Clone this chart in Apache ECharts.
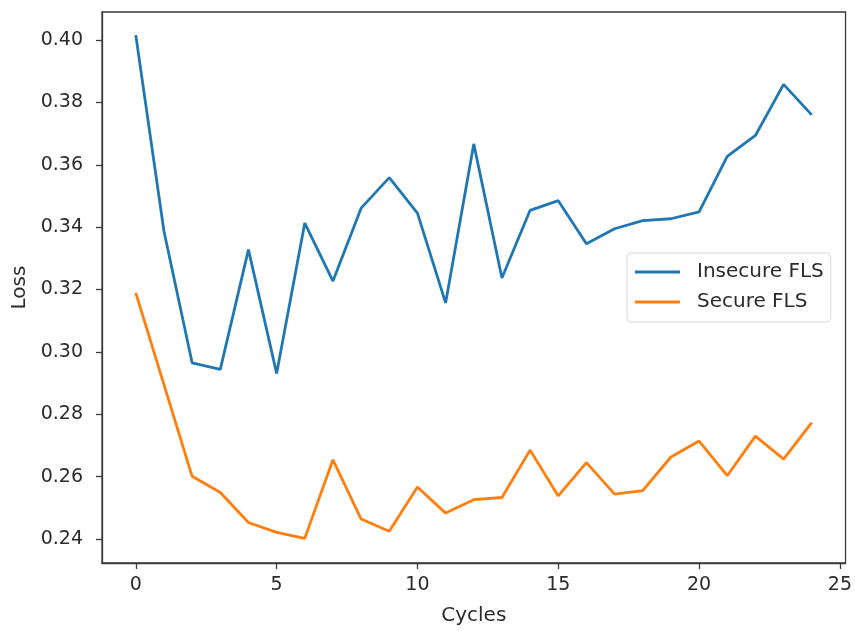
<!DOCTYPE html>
<html>
<head>
<meta charset="utf-8">
<script src="https://cdn.jsdelivr.net/npm/echarts@6/dist/echarts.min.js"></script>
<style>
html,body{margin:0;padding:0;background:#fff;}
#chart{width:855px;height:631px;}
</style>
</head>
<body>
<div id="chart"></div>
<script>
const cycles = [0,1,2,3,4,5,6,7,8,9,10,11,12,13,14,15,16,17,18,19,20,21,22,23,24];
const insecureFLS = [0.4016,0.3387,0.2965,0.2944,0.3328,0.2931,0.3413,0.3227,0.3461,0.3559,0.3445,0.3157,0.3667,0.3237,0.3454,0.3485,0.3347,0.3395,0.3421,0.3427,0.3449,0.3627,0.3694,0.3858,0.3760];
const secureFLS = [0.3189,0.2895,0.2601,0.2549,0.2453,0.2421,0.2402,0.2654,0.2464,0.2425,0.2567,0.2483,0.2526,0.2533,0.2685,0.2538,0.2645,0.2544,0.2555,0.2663,0.2714,0.2603,0.2730,0.2656,0.2773];
const xTicks = [0,5,10,15,20,25];
const yTicks = [0.24,0.26,0.28,0.30,0.32,0.34,0.36,0.38,0.40];

const font = 'DejaVu Sans';
const txt = '#2b2b2b';
const spine = '#3a3a3a';

const chart = echarts.init(document.getElementById('chart'), null, {renderer:'canvas'});
chart.setOption({
  animation:false,
  backgroundColor:'#fff',
  textStyle:{fontFamily:font},
  grid:{left:102,right:9,top:12,bottom:67,show:true,borderColor:spine,borderWidth:1.3,backgroundColor:'transparent'},
  legend:{
    orient:'vertical',left:627,top:253,
    data:['Insecure FLS','Secure FLS'],
    icon:'rect',
    itemWidth:45,itemHeight:3,itemGap:10,
    padding:[9,7,10,8],
    backgroundColor:'#fff',borderColor:'#d8d8d8',borderWidth:1,borderRadius:4,
    textStyle:{fontFamily:font,fontSize:20,color:txt,lineHeight:20,padding:[0,0,0,12]}
  },
  xAxis:{
    type:'value',min:-1.2,max:25.2,
    name:'Cycles',nameLocation:'middle',nameGap:43,
    nameTextStyle:{fontFamily:font,fontSize:20,color:txt},
    axisLine:{show:true,onZero:false,lineStyle:{color:spine,width:1.3}},
    axisTick:{show:true,length:6,customValues:xTicks,lineStyle:{color:spine,width:1.3}},
    axisLabel:{customValues:xTicks,fontFamily:font,fontSize:19,color:txt,margin:13},
    splitLine:{show:false}
  },
  yAxis:{
    type:'value',min:0.2323,max:0.4090,
    name:'Loss',nameLocation:'middle',nameGap:72,nameRotate:90,
    nameTextStyle:{fontFamily:font,fontSize:20,color:txt},
    axisLine:{show:true,onZero:false,lineStyle:{color:spine,width:1.3}},
    axisTick:{show:true,length:6,customValues:yTicks,lineStyle:{color:spine,width:1.3}},
    axisLabel:{customValues:yTicks,fontFamily:font,fontSize:19,color:txt,margin:19,formatter:v=>v.toFixed(2)},
    splitLine:{show:false}
  },
  series:[
    {name:'Insecure FLS',type:'line',symbol:'none',showSymbol:false,
     data:cycles.map((c,i)=>[c,insecureFLS[i]]),
     lineStyle:{color:'#1f77b4',width:2.8},itemStyle:{color:'#1f77b4'}},
    {name:'Secure FLS',type:'line',symbol:'none',showSymbol:false,
     data:cycles.map((c,i)=>[c,secureFLS[i]]),
     lineStyle:{color:'#ff7f0e',width:2.8},itemStyle:{color:'#ff7f0e'}}
  ]
});
</script>
</body>
</html>
